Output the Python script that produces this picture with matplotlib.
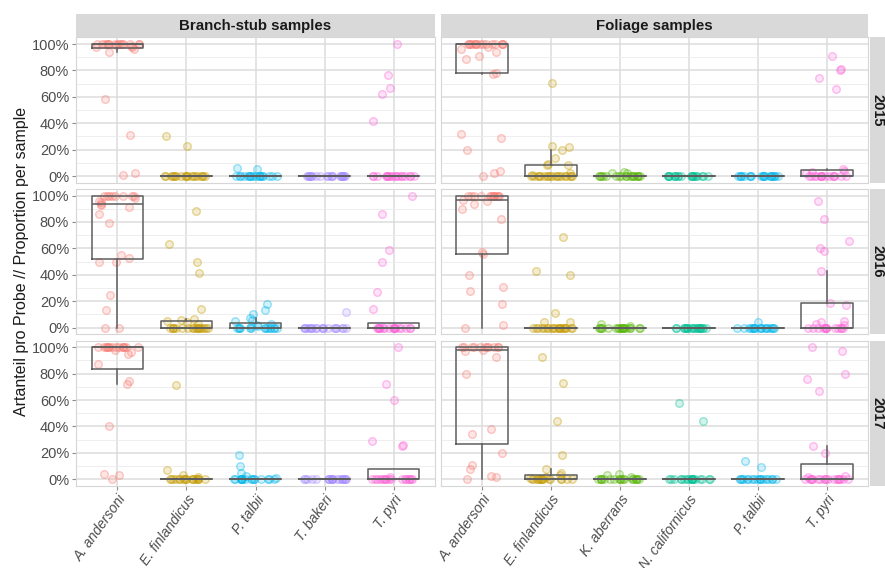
import numpy as np
import matplotlib
matplotlib.use("Agg")
from matplotlib import pyplot as plt

plt.rcParams['font.family'] = ['Liberation Sans', 'DejaVu Sans']

# species shown in each column (free x scale)
branch_species = ["A. andersoni", "E. finlandicus", "P. talbii", "T. bakeri", "T. pyri"]
foliage_species = ["A. andersoni", "E. finlandicus", "K. aberrans", "N. californicus", "P. talbii", "T. pyri"]

species_colors = {
    "A. andersoni": "#F8766D",
    "E. finlandicus": "#C49A00",
    "K. aberrans": "#53B400",
    "N. californicus": "#00C094",
    "P. talbii": "#00B6EB",
    "T. bakeri": "#A58AFF",
    "T. pyri": "#FB61D7",
}

years = ["2015", "2016", "2017"]
column_titles = ["Branch-stub samples", "Foliage samples"]

# proportion per sample (%)
branch_2015 = {
    "A. andersoni": [0.5, 2, 31, 58, 94, 96.5, 97.5, 98, 98.5, 99] + [100] * 14,
    "E. finlandicus": [30, 23] + [0] * 20,
    "P. talbii": [6, 5.5] + [0] * 18,
    "T. bakeri": [0] * 20,
    "T. pyri": [100, 76.5, 67, 62, 42] + [0] * 18,
}
foliage_2015 = {
    "A. andersoni": [0, 2, 4, 20, 29, 32, 77, 78, 89, 91, 94, 96, 98] + [100] * 15,
    "E. finlandicus": [70.6, 23, 22, 19.5, 14, 9.4, 8.6, 8, 2.5, 1] + [0] * 19,
    "K. aberrans": [3, 2.5, 2] + [0] * 18,
    "N. californicus": [0] * 20,
    "P. talbii": [0] * 20,
    "T. pyri": [91, 81, 80, 74, 66, 5.5, 4, 3, 2] + [0] * 15,
}
branch_2016 = {
    "A. andersoni": [0, 0, 13, 25, 50, 50, 53, 55, 79, 86, 91, 93, 94, 95, 96, 98] + [100] * 8,
    "E. finlandicus": [88, 63, 50, 41, 14, 6.5, 6, 5, 4, 3] + [0] * 18,
    "P. talbii": [18, 13.4, 10, 7.5, 6, 5, 3, 2, 1.5, 1] + [0] * 14,
    "T. bakeri": [12] + [0] * 19,
    "T. pyri": [100, 86, 59, 50, 27, 14] + [0] * 18,
}
foliage_2016 = {
    "A. andersoni": [0, 2, 18, 28, 31, 40, 55.5, 57.6, 82, 90, 94, 96, 96.7] + [100] * 12,
    "E. finlandicus": [69, 43, 40, 11, 4.5, 4] + [0] * 20,
    "K. aberrans": [2.5, 1.5] + [0] * 18,
    "N. californicus": [0] * 20,
    "P. talbii": [4.5] + [0] * 18,
    "T. pyri": [96, 82, 65.6, 60, 58, 43, 18.7, 17, 5, 4.3, 2.8, 2] + [0] * 13,
}
branch_2017 = {
    "A. andersoni": [0, 3, 3.8, 40, 72, 74.4, 87, 95, 96, 98] + [100] * 14,
    "E. finlandicus": [71.4, 7.3, 3, 2] + [0] * 18,
    "P. talbii": [18, 10, 5, 2.3, 1] + [0] * 16,
    "T. bakeri": [0] * 20,
    "T. pyri": [100, 72, 60, 29, 26, 25, 1.8] + [0] * 17,
}
foliage_2017 = {
    "A. andersoni": [0, 1.8, 2.3, 8, 11, 20, 34, 38, 80, 92.4, 97, 98] + [100] * 11,
    "E. finlandicus": [92.4, 72.7, 44, 18, 7.6, 5, 3, 2, 1] + [0] * 15,
    "K. aberrans": [4, 3, 2] + [0] * 18,
    "N. californicus": [57.5, 44] + [0] * 18,
    "P. talbii": [14, 9] + [0] * 18,
    "T. pyri": [100, 97.5, 80, 76, 67, 25, 20, 2.5, 1.8] + [0] * 18,
}

panels = [
    [branch_2015, foliage_2015],
    [branch_2016, foliage_2016],
    [branch_2017, foliage_2017],
]
column_species = [branch_species, foliage_species]

W, H = 885, 568
fig = plt.figure(figsize=(W / 100, H / 100), dpi=100)


def add_box(x0, y0, w, h):
    return fig.add_axes([x0 / W, 1 - (y0 + h) / H, w / W, h / H])


col_x = [(76, 359), (441, 427)]
row_y = [37.4, 189.0, 340.6]
panel_h = 145.2
strip_h = 23.4

rng = np.random.default_rng(7)
box_color = "#5E5E5E"

for r, row in enumerate(panels):
    for c, data in enumerate(row):
        species = column_species[c]
        x0, w = col_x[c]
        ax = add_box(x0, row_y[r], w, panel_h)
        n = len(species)

        groups = [np.array(data[s], dtype=float) for s in species]
        for i, (sp, vals) in enumerate(zip(species, groups)):
            jitter = rng.uniform(-0.32, 0.32, len(vals))
            col = matplotlib.colors.to_rgba(species_colors[sp])
            ax.scatter(i + jitter, vals, s=30,
                       facecolor=(col[0], col[1], col[2], 0.18),
                       edgecolor=(col[0], col[1], col[2], 0.38),
                       linewidth=1.0, zorder=3)

        ax.boxplot(groups, positions=range(n), widths=0.75, whis=1.5,
                   showfliers=False, showcaps=False, manage_ticks=False,
                   boxprops=dict(color=box_color, linewidth=1.1),
                   whiskerprops=dict(color=box_color, linewidth=1.1),
                   medianprops=dict(color=box_color, linewidth=1.1),
                   zorder=4)

        ax.set_xlim(-0.6, n - 0.4)
        ax.set_ylim(-5, 105)
        ax.set_yticks(range(0, 101, 20))
        ax.set_yticks(range(10, 100, 20), minor=True)
        ax.set_yticklabels([f"{v}%" for v in range(0, 101, 20)])
        ax.set_xticks(range(n))
        ax.set_xticklabels(species, rotation=54, ha="right", va="top",
                           fontstyle="italic", rotation_mode="anchor",
                           fontsize=10)
        ax.set_axisbelow(True)
        ax.grid(which="major", color="#DCDCDC", linewidth=1.1)
        ax.grid(which="minor", axis="y", color="#EBEBEB", linewidth=0.6)
        ax.tick_params(which="minor", left=False)
        ax.tick_params(which="major", colors="#8C8C8C", length=2.75, width=0.8,
                       pad=2.2, labelcolor="#4D4D4D")
        ax.tick_params(axis="y", labelsize=10.5)
        for sp_ in ax.spines.values():
            sp_.set_color("#D6D6D6")
            sp_.set_linewidth(0.8)
        if c != 0:
            ax.tick_params(left=False, labelleft=False)
        if r != len(panels) - 1:
            ax.tick_params(bottom=False, labelbottom=False)

        if r == 0:
            st = add_box(x0, row_y[0] - strip_h, w, strip_h)
            st.set_facecolor("#D9D9D9")
            st.set_xticks([])
            st.set_yticks([])
            for s in st.spines.values():
                s.set_visible(False)
            st.text(0.5, 0.5, column_titles[c], ha="center", va="center",
                    fontsize=10.8, fontweight="bold", color="#1A1A1A")

    st = add_box(869.5, row_y[r], strip_h, panel_h)
    st.set_facecolor("#D9D9D9")
    st.set_xticks([])
    st.set_yticks([])
    for s in st.spines.values():
        s.set_visible(False)
    st.text(0.34, 0.5, years[r], ha="center", va="center", rotation=-90,
            fontsize=10.5, fontweight="bold", color="#1A1A1A")

fig.text(22 / W, 1 - 261 / H, "Artanteil pro Probe // Proportion per sample",
         rotation=90, ha="center", va="center", fontsize=11.5, color="#1A1A1A")

fig.savefig("out.png", dpi=100)
